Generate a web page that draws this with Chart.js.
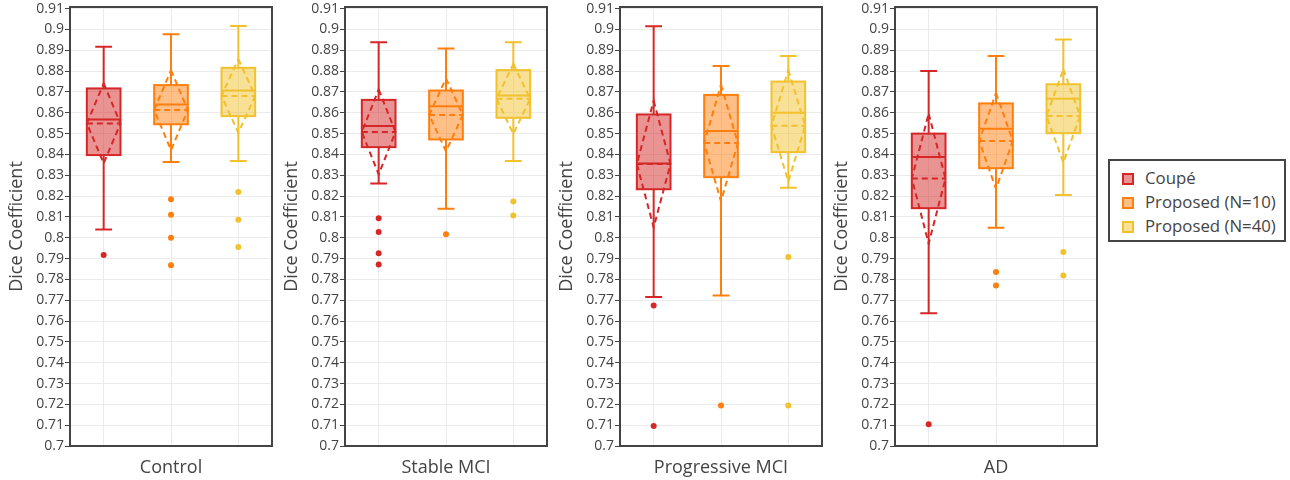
<!DOCTYPE html>
<html><head><meta charset="utf-8">
<script src="https://cdn.jsdelivr.net/npm/chart.js@4.4.0/dist/chart.umd.min.js"></script>
<style>
html,body{margin:0;padding:0;background:#fff;width:1290px;height:480px;overflow:hidden;position:relative;}
canvas{position:absolute;top:0;}
#legend{position:absolute;left:1108px;top:159px;width:174px;height:79px;border:2px solid #444;font-family:"Open Sans",sans-serif;font-size:16.8px;color:#444;background:#fff;}
.item{position:absolute;left:0;height:24px;line-height:24px;white-space:nowrap;}
.sw{position:absolute;left:12px;top:6px;width:8px;height:8px;border:2px solid;}
.lbl{position:absolute;left:35px;top:-1px;}
</style></head><body>
<canvas id="c0" width="275" height="480" style="left:0px"></canvas>
<canvas id="c1" width="275" height="480" style="left:275px"></canvas>
<canvas id="c2" width="275" height="480" style="left:550px"></canvas>
<canvas id="c3" width="275" height="480" style="left:825px"></canvas>
<div id="legend"></div>
<script>
const groups = ['Control', 'Stable MCI', 'Progressive MCI', 'AD'];
const seriesNames = ['Coupé', 'Proposed (N=10)', 'Proposed (N=40)'];
const seriesColors = ['#d62728', '#ff7f0e', '#f2c12e'];
const seriesFills = ['rgba(214,39,40,0.5)', 'rgba(255,127,14,0.5)', 'rgba(242,193,46,0.5)'];
const yTickValues = [0.7, 0.71, 0.72, 0.73, 0.74, 0.75, 0.76, 0.77, 0.78, 0.79, 0.8,
  0.81, 0.82, 0.83, 0.84, 0.85, 0.86, 0.87, 0.88, 0.89, 0.9, 0.91];

// each row: one group; each entry: one series (Coupé, N=10, N=40)
const lowerWhisker = [[0.804, 0.8364, 0.8369], [0.826, 0.8139, 0.8368], [0.7716, 0.7723, 0.824], [0.7637, 0.8048, 0.8205]];
const q1 =           [[0.8397, 0.8545, 0.8584], [0.8435, 0.8472, 0.8576], [0.8233, 0.8291, 0.8411], [0.8142, 0.8334, 0.8502]];
const median =       [[0.8568, 0.864, 0.8707], [0.8536, 0.8632, 0.8683], [0.8357, 0.8513, 0.86], [0.8388, 0.8523, 0.8667]];
const q3 =           [[0.8717, 0.8733, 0.8816], [0.8662, 0.8707, 0.8805], [0.8592, 0.8686, 0.875], [0.85, 0.8645, 0.8737]];
const upperWhisker = [[0.8917, 0.8977, 0.9017], [0.8939, 0.8909, 0.8939], [0.9016, 0.8825, 0.8873], [0.8801, 0.8873, 0.8952]];
const means =        [[0.8549, 0.8613, 0.8681], [0.8508, 0.859, 0.8667], [0.8354, 0.8455, 0.8538], [0.8284, 0.8465, 0.8585]];
const sds =          [[0.0192, 0.0192, 0.0177], [0.0204, 0.0175, 0.0168], [0.0304, 0.028, 0.0268], [0.0312, 0.023, 0.0224]];
const outliers = [
  [[0.7917], [0.8185, 0.8111, 0.800, 0.7868], [0.822, 0.8086, 0.7956]],
  [[0.8094, 0.8028, 0.7925, 0.7872], [0.8017], [0.8174, 0.8107]],
  [[0.7675, 0.7096], [0.7195], [0.7908, 0.7195]],
  [[0.7104], [0.7836, 0.7771], [0.7932, 0.7819]]
];

Chart.defaults.font.family = '"Open Sans", sans-serif';
Chart.defaults.color = '#444';

const boxExtras = {
  id: 'boxExtras',
  afterDatasetsDraw(chart) {
    const g = chart.options.plugins.boxExtras.group;
    const xs = chart.scales.x, ys = chart.scales.y, ctx = chart.ctx;
    const band = xs.getPixelForValue(1) - xs.getPixelForValue(0);
    const half = band * 0.25, cap = band * 0.125;
    seriesNames.forEach((name, i) => {
      const cx = xs.getPixelForValue(i);
      const P = v => ys.getPixelForValue(v);
      ctx.save();
      ctx.strokeStyle = seriesColors[i];
      ctx.lineWidth = 2;
      ctx.lineJoin = 'miter';
      // box outline
      ctx.strokeRect(cx - half, P(q3[g][i]), 2 * half, P(q1[g][i]) - P(q3[g][i]));
      // whiskers + caps
      ctx.beginPath();
      ctx.moveTo(cx, P(q3[g][i])); ctx.lineTo(cx, P(upperWhisker[g][i]));
      ctx.moveTo(cx - cap, P(upperWhisker[g][i])); ctx.lineTo(cx + cap, P(upperWhisker[g][i]));
      ctx.moveTo(cx, P(q1[g][i])); ctx.lineTo(cx, P(lowerWhisker[g][i]));
      ctx.moveTo(cx - cap, P(lowerWhisker[g][i])); ctx.lineTo(cx + cap, P(lowerWhisker[g][i]));
      ctx.stroke();
      // median
      ctx.beginPath();
      ctx.moveTo(cx - half, P(median[g][i])); ctx.lineTo(cx + half, P(median[g][i]));
      ctx.stroke();
      // mean and sd diamond (dashed)
      ctx.setLineDash([6, 4]);
      const m = means[g][i], sd = sds[g][i];
      ctx.beginPath();
      ctx.moveTo(cx - half, P(m)); ctx.lineTo(cx + half, P(m));
      ctx.stroke();
      ctx.beginPath();
      ctx.moveTo(cx, P(m + sd));
      ctx.lineTo(cx + half, P(m));
      ctx.lineTo(cx, P(m - sd));
      ctx.lineTo(cx - half, P(m));
      ctx.closePath();
      ctx.stroke();
      ctx.restore();
    });
  },
  afterDraw(chart) {
    const a = chart.chartArea, ctx = chart.ctx;
    ctx.save();
    ctx.strokeStyle = '#444';
    ctx.lineWidth = 2;
    ctx.strokeRect(a.left, a.top, a.right - a.left, a.bottom - a.top);
    ctx.restore();
  }
};

groups.forEach((groupName, g) => {
  const datasets = [];
  seriesNames.forEach((name, i) => {
    datasets.push({
      type: 'bar',
      label: name,
      data: seriesNames.map((_, j) => j === i ? [q1[g][i], q3[g][i]] : null),
      backgroundColor: seriesFills[i],
      borderWidth: 0,
      grouped: false,
      barPercentage: 0.5,
      categoryPercentage: 1.0,
      order: 2
    });
  });
  seriesNames.forEach((name, i) => {
    datasets.push({
      type: 'line',
      label: name + ' outliers',
      data: outliers[g][i].map(v => ({ x: name, y: v })),
      showLine: false,
      pointRadius: 3,
      pointHoverRadius: 3,
      pointBackgroundColor: seriesColors[i],
      pointBorderWidth: 0,
      borderColor: seriesColors[i],
      order: 1
    });
  });
  new Chart(document.getElementById('c' + g), {
    type: 'bar',
    data: { labels: seriesNames, datasets },
    plugins: [boxExtras],
    options: {
      responsive: false,
      animation: false,
      devicePixelRatio: 1,
      layout: { padding: { top: 7, right: 3, left: 0, bottom: 0 } },
      plugins: {
        legend: { display: false },
        tooltip: { enabled: false },
        boxExtras: { group: g }
      },
      scales: {
        x: {
          type: 'category',
          offset: true,
          grid: { color: '#ebebeb', lineWidth: 1, offset: false, drawTicks: false },
          border: { display: false },
          ticks: { display: false },
          title: { display: true, text: groupName, color: '#444', font: { size: 18 }, padding: { top: 4, bottom: 1 } },
          afterFit: s => { s.height = 34; s.paddingLeft = 0; s.paddingRight = 0; }
        },
        y: {
          type: 'linear',
          min: 0.7,
          max: 0.9108,
          grid: { color: '#ebebeb', lineWidth: 1, drawTicks: true, tickLength: 5, tickColor: '#444', tickWidth: 1 },
          border: { display: false },
          afterBuildTicks: s => { s.ticks = yTickValues.map(v => ({ value: v })); },
          ticks: { color: '#444', font: { size: 14 }, padding: 1, callback: v => String(v) },
          title: { display: true, text: 'Dice Coefficient', color: '#444', font: { size: 18 }, padding: { top: 6, bottom: 0 } },
          afterFit: s => { s.width = 70; s.paddingTop = 0; s.paddingBottom = 0; }
        }
      }
    }
  });
});

// legend
const legend = document.getElementById('legend');
seriesNames.forEach((name, i) => {
  const item = document.createElement('div');
  item.className = 'item';
  item.style.top = (6 + i * 24) + 'px';
  const sw = document.createElement('span');
  sw.className = 'sw';
  sw.style.borderColor = seriesColors[i];
  sw.style.background = seriesFills[i];
  const lbl = document.createElement('span');
  lbl.className = 'lbl';
  lbl.textContent = name;
  item.appendChild(sw); item.appendChild(lbl);
  legend.appendChild(item);
});
</script>
</body></html>
